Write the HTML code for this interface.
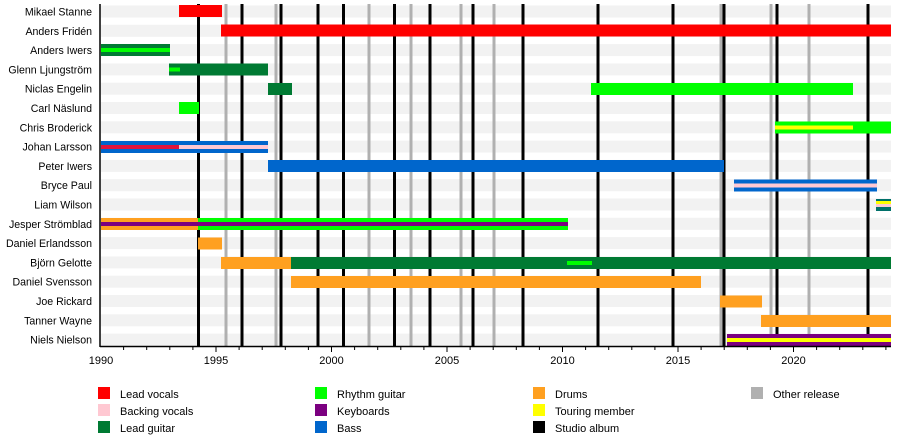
<!DOCTYPE html>
<html><head><meta charset="utf-8"><style>body{margin:0;background:#fff}svg{display:block;font-family:"Liberation Sans",sans-serif}</style></head><body>
<svg width="900" height="440" viewBox="0 0 900 440">
<g fill="#f2f2f2">
<rect x="101" y="5.5" width="790" height="12"/><rect x="101" y="24.8" width="790" height="12"/><rect x="101" y="44.1" width="790" height="12"/><rect x="101" y="63.4" width="790" height="12"/><rect x="101" y="82.7" width="790" height="12"/><rect x="101" y="102" width="790" height="12"/><rect x="101" y="121.3" width="790" height="12"/><rect x="101" y="140.6" width="790" height="12"/><rect x="101" y="159.9" width="790" height="12"/><rect x="101" y="179.2" width="790" height="12"/><rect x="101" y="198.5" width="790" height="12"/><rect x="101" y="217.8" width="790" height="12"/><rect x="101" y="237.1" width="790" height="12"/><rect x="101" y="256.4" width="790" height="12"/><rect x="101" y="275.7" width="790" height="12"/><rect x="101" y="295" width="790" height="12"/><rect x="101" y="314.3" width="790" height="12"/><rect x="101" y="333.6" width="790" height="12"/>
</g>
<g stroke="#b0b0b0" stroke-width="3">
<line x1="226" y1="4" x2="226" y2="346"/><line x1="276" y1="4" x2="276" y2="346"/><line x1="369" y1="4" x2="369" y2="346"/><line x1="411" y1="4" x2="411" y2="346"/><line x1="461" y1="4" x2="461" y2="346"/><line x1="494" y1="4" x2="494" y2="346"/><line x1="721" y1="4" x2="721" y2="346"/><line x1="771" y1="4" x2="771" y2="346"/><line x1="809" y1="4" x2="809" y2="346"/>
</g>
<g stroke="#000" stroke-width="3">
<line x1="198.5" y1="4" x2="198.5" y2="346"/><line x1="242" y1="4" x2="242" y2="346"/><line x1="281" y1="4" x2="281" y2="346"/><line x1="318" y1="4" x2="318" y2="346"/><line x1="343.5" y1="4" x2="343.5" y2="346"/><line x1="394.5" y1="4" x2="394.5" y2="346"/><line x1="430" y1="4" x2="430" y2="346"/><line x1="473" y1="4" x2="473" y2="346"/><line x1="523" y1="4" x2="523" y2="346"/><line x1="598" y1="4" x2="598" y2="346"/><line x1="673" y1="4" x2="673" y2="346"/><line x1="724" y1="4" x2="724" y2="346"/><line x1="777" y1="4" x2="777" y2="346"/><line x1="868" y1="4" x2="868" y2="346"/>
</g>
<rect x="179" y="5" width="43" height="12" fill="#ff0000"/>
<rect x="221" y="24.5" width="670" height="12" fill="#ff0000"/>
<rect x="101" y="44" width="69" height="12" fill="#007a33"/><rect x="101" y="48" width="69" height="4" fill="#00ff00"/>
<rect x="169" y="63.5" width="99" height="12" fill="#007a33"/><rect x="169" y="67.5" width="11" height="4" fill="#00ff00"/>
<rect x="268" y="83" width="24" height="12" fill="#007a33"/>
<rect x="591" y="83" width="262" height="12" fill="#00ff00"/>
<rect x="179" y="102" width="20" height="12" fill="#00ff00"/>
<rect x="775" y="121.5" width="116" height="12" fill="#00ff00"/><rect x="775" y="125.5" width="78" height="4" fill="#ffff00"/>
<rect x="101" y="141" width="167" height="12" fill="#0066cc"/><rect x="101" y="145" width="78" height="4" fill="#e0143c"/><rect x="179" y="145" width="89" height="4" fill="#ffc8d2"/>
<rect x="268" y="160" width="456" height="12" fill="#0066cc"/>
<rect x="734" y="179.5" width="143" height="12" fill="#0066cc"/><rect x="734" y="183.5" width="143" height="4" fill="#ffc8d2"/>
<rect x="876" y="199" width="15" height="12" fill="#00706a"/><rect x="876" y="201" width="15" height="3" fill="#ffff00"/><rect x="876" y="204" width="15" height="3" fill="#ffc8d2"/>
<rect x="101" y="218" width="98" height="12" fill="#ffa020"/><rect x="198" y="218" width="370" height="12" fill="#00ff00"/><rect x="101" y="222" width="467" height="4" fill="#7b0080"/>
<rect x="198" y="237.5" width="24" height="12" fill="#ffa020"/>
<rect x="221" y="257" width="71" height="12" fill="#ffa020"/><rect x="291" y="257" width="600" height="12" fill="#007a33"/><rect x="567" y="261" width="25" height="4" fill="#00ff00"/>
<rect x="291" y="276" width="410" height="12" fill="#ffa020"/>
<rect x="720" y="295.5" width="42" height="12" fill="#ffa020"/>
<rect x="761" y="315" width="130" height="12" fill="#ffa020"/>
<rect x="727" y="334" width="164" height="12" fill="#7b0080"/><rect x="727" y="338" width="164" height="4" fill="#ffff00"/>
<line x1="100" y1="4" x2="100" y2="347" stroke="#000" stroke-width="1.5"/>
<line x1="100" y1="346.5" x2="891" y2="346.5" stroke="#000" stroke-width="1.5"/>
<g stroke="#000" stroke-width="1">
<line x1="123.6" y1="346" x2="123.6" y2="350"/><line x1="146.7" y1="346" x2="146.7" y2="350"/><line x1="169.8" y1="346" x2="169.8" y2="350"/><line x1="192.9" y1="346" x2="192.9" y2="350"/><line x1="216" y1="346" x2="216" y2="352"/><line x1="239.1" y1="346" x2="239.1" y2="350"/><line x1="262.2" y1="346" x2="262.2" y2="350"/><line x1="285.3" y1="346" x2="285.3" y2="350"/><line x1="308.4" y1="346" x2="308.4" y2="350"/><line x1="331.5" y1="346" x2="331.5" y2="352"/><line x1="354.6" y1="346" x2="354.6" y2="350"/><line x1="377.7" y1="346" x2="377.7" y2="350"/><line x1="400.8" y1="346" x2="400.8" y2="350"/><line x1="423.9" y1="346" x2="423.9" y2="350"/><line x1="447" y1="346" x2="447" y2="352"/><line x1="470.1" y1="346" x2="470.1" y2="350"/><line x1="493.2" y1="346" x2="493.2" y2="350"/><line x1="516.3" y1="346" x2="516.3" y2="350"/><line x1="539.4" y1="346" x2="539.4" y2="350"/><line x1="562.5" y1="346" x2="562.5" y2="352"/><line x1="585.6" y1="346" x2="585.6" y2="350"/><line x1="608.7" y1="346" x2="608.7" y2="350"/><line x1="631.8" y1="346" x2="631.8" y2="350"/><line x1="654.9" y1="346" x2="654.9" y2="350"/><line x1="678" y1="346" x2="678" y2="352"/><line x1="701.1" y1="346" x2="701.1" y2="350"/><line x1="724.2" y1="346" x2="724.2" y2="350"/><line x1="747.3" y1="346" x2="747.3" y2="350"/><line x1="770.4" y1="346" x2="770.4" y2="350"/><line x1="793.5" y1="346" x2="793.5" y2="352"/><line x1="816.6" y1="346" x2="816.6" y2="350"/><line x1="839.7" y1="346" x2="839.7" y2="350"/><line x1="862.8" y1="346" x2="862.8" y2="350"/><line x1="885.9" y1="346" x2="885.9" y2="350"/>
</g>
<g font-size="11" fill="#000" text-anchor="middle">
<text x="101" y="364">1990</text><text x="216" y="364">1995</text><text x="331.5" y="364">2000</text><text x="447" y="364">2005</text><text x="562.5" y="364">2010</text><text x="678" y="364">2015</text><text x="793.5" y="364">2020</text>
</g>
<g font-size="10.6" fill="#000" text-anchor="end">
<text x="92" y="15.5">Mikael Stanne</text><text x="92" y="34.8">Anders Fridén</text><text x="92" y="54.1">Anders Iwers</text><text x="92" y="73.4">Glenn Ljungström</text><text x="92" y="92.7">Niclas Engelin</text><text x="92" y="112">Carl Näslund</text><text x="92" y="131.3">Chris Broderick</text><text x="92" y="150.6">Johan Larsson</text><text x="92" y="169.9">Peter Iwers</text><text x="92" y="189.2">Bryce Paul</text><text x="92" y="208.5">Liam Wilson</text><text x="92" y="227.8">Jesper Strömblad</text><text x="92" y="247.1">Daniel Erlandsson</text><text x="92" y="266.4">Björn Gelotte</text><text x="92" y="285.7">Daniel Svensson</text><text x="92" y="305">Joe Rickard</text><text x="92" y="324.3">Tanner Wayne</text><text x="92" y="343.6">Niels Nielson</text>
</g>
<g>
<rect x="98" y="387" width="12" height="12" fill="#ff0000"/><rect x="98" y="404" width="12" height="12" fill="#ffc8d2"/><rect x="98" y="421" width="12" height="12" fill="#007a33"/>
<rect x="315" y="387" width="12" height="12" fill="#00ff00"/><rect x="315" y="404" width="12" height="12" fill="#7b0080"/><rect x="315" y="421" width="12" height="12" fill="#0066cc"/>
<rect x="533" y="387" width="12" height="12" fill="#ffa020"/><rect x="533" y="404" width="12" height="12" fill="#ffff00"/><rect x="533" y="421" width="12" height="12" fill="#000"/>
<rect x="751" y="387" width="12" height="12" fill="#b0b0b0"/>
</g>
<g font-size="11" fill="#000">
<text x="120" y="398">Lead vocals</text><text x="120" y="415">Backing vocals</text><text x="120" y="432">Lead guitar</text>
<text x="337" y="398">Rhythm guitar</text><text x="337" y="415">Keyboards</text><text x="337" y="432">Bass</text>
<text x="555" y="398">Drums</text><text x="555" y="415">Touring member</text><text x="555" y="432">Studio album</text>
<text x="773" y="398">Other release</text>
</g>
</svg>
</body></html>
